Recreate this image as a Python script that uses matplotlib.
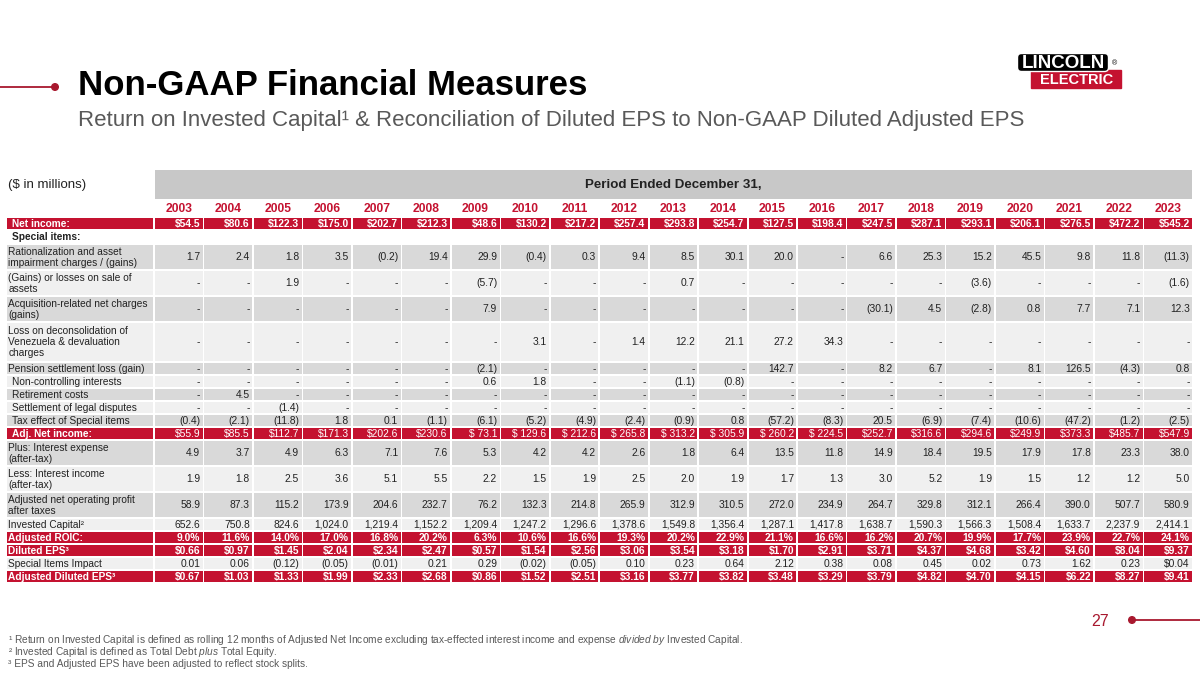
import matplotlib
matplotlib.use('Agg')
import matplotlib.pyplot as plt
from matplotlib.patches import Rectangle, FancyBboxPatch, Circle

plt.rcParams['font.family'] = ['Liberation Sans', 'DejaVu Sans']
plt.rcParams['mathtext.fontset'] = 'custom'
plt.rcParams['mathtext.rm'] = 'Liberation Sans'
plt.rcParams['mathtext.it'] = 'Liberation Sans:italic'

# ---------------- data ----------------
years = list(range(2003, 2024))
net_income = [54.5, 80.6, 122.3, 175.0, 202.7, 212.3, 48.6, 130.2, 217.2, 257.4, 293.8,
              254.7, 127.5, 198.4, 247.5, 287.1, 293.1, 206.1, 276.5, 472.2, 545.2]
rationalization = [1.7, 2.4, 1.8, 3.5, -0.2, 19.4, 29.9, -0.4, 0.3, 9.4, 8.5,
                   30.1, 20.0, None, 6.6, 25.3, 15.2, 45.5, 9.8, 11.8, -11.3]
gains_losses = [None, None, 1.9, None, None, None, -5.7, None, None, None, 0.7,
                None, None, None, None, None, -3.6, None, None, None, -1.6]
acquisition = [None, None, None, None, None, None, 7.9, None, None, None, None,
               None, None, None, -30.1, 4.5, -2.8, 0.8, 7.7, 7.1, 12.3]
venezuela = [None, None, None, None, None, None, None, 3.1, None, 1.4, 12.2,
             21.1, 27.2, 34.3, None, None, None, None, None, None, None]
pension = [None, None, None, None, None, None, -2.1, None, None, None, None,
           None, 142.7, None, 8.2, 6.7, None, 8.1, 126.5, -4.3, 0.8]
non_controlling = [None, None, None, None, None, None, 0.6, 1.8, None, None, -1.1,
                   -0.8, None, None, None, None, None, None, None, None, None]
retirement = [None, 4.5, None, None, None, None, None, None, None, None, None,
              None, None, None, None, None, None, None, None, None, None]
legal = [None, None, -1.4, None, None, None, None, None, None, None, None,
         None, None, None, None, None, None, None, None, None, None]
tax_effect = [-0.4, -2.1, -11.8, 1.8, 0.1, -1.1, -6.1, -5.2, -4.9, -2.4, -0.9,
              0.8, -57.2, -8.3, 20.5, -6.9, -7.4, -10.6, -47.2, -1.2, -2.5]
adj_net_income = [55.9, 85.5, 112.7, 171.3, 202.6, 230.6, 73.1, 129.6, 212.6, 265.8, 313.2,
                  305.9, 260.2, 224.5, 252.7, 316.6, 294.6, 249.9, 373.3, 485.7, 547.9]
adj_net_spaced_years = [2009, 2010, 2011, 2012, 2013, 2014, 2015, 2016]
interest_expense = [4.9, 3.7, 4.9, 6.3, 7.1, 7.6, 5.3, 4.2, 4.2, 2.6, 1.8,
                    6.4, 13.5, 11.8, 14.9, 18.4, 19.5, 17.9, 17.8, 23.3, 38.0]
interest_income = [1.9, 1.8, 2.5, 3.6, 5.1, 5.5, 2.2, 1.5, 1.9, 2.5, 2.0,
                   1.9, 1.7, 1.3, 3.0, 5.2, 1.9, 1.5, 1.2, 1.2, 5.0]
adj_nopat = [58.9, 87.3, 115.2, 173.9, 204.6, 232.7, 76.2, 132.3, 214.8, 265.9, 312.9,
             310.5, 272.0, 234.9, 264.7, 329.8, 312.1, 266.4, 390.0, 507.7, 580.9]
invested_capital = [652.6, 750.8, 824.6, 1024.0, 1219.4, 1152.2, 1209.4, 1247.2, 1296.6, 1378.6, 1549.8,
                    1356.4, 1287.1, 1417.8, 1638.7, 1590.3, 1566.3, 1508.4, 1633.7, 2237.9, 2414.1]
adj_roic = [9.0, 11.6, 14.0, 17.0, 16.8, 20.2, 6.3, 10.6, 16.6, 19.3, 20.2,
            22.9, 21.1, 16.6, 16.2, 20.7, 19.9, 17.7, 23.9, 22.7, 24.1]
diluted_eps = [0.66, 0.97, 1.45, 2.04, 2.34, 2.47, 0.57, 1.54, 2.56, 3.06, 3.54,
               3.18, 1.70, 2.91, 3.71, 4.37, 4.68, 3.42, 4.60, 8.04, 9.37]
special_impact = [0.01, 0.06, -0.12, -0.05, -0.01, 0.21, 0.29, -0.02, -0.05, 0.10, 0.23,
                  0.64, 2.12, 0.38, 0.08, 0.45, 0.02, 0.73, 1.62, 0.23, 0.04]
special_impact_dollar_years = [2023]
adj_diluted_eps = [0.67, 1.03, 1.33, 1.99, 2.33, 2.68, 0.86, 1.52, 2.51, 3.16, 3.77,
                   3.82, 3.48, 3.29, 3.79, 4.82, 4.70, 4.15, 6.22, 8.27, 9.41]

# ---------------- formatters ----------------
def f_num(v, y=None, dec=1):
    if v is None:
        return '-'
    s = f"{abs(v):,.{dec}f}"
    return f"({s})" if v < 0 else s

def f_money(v, y=None):
    return f"${v:,.1f}"

def f_adj(v, y=None):
    return (f"$ {v:,.1f}" if y in adj_net_spaced_years else f"${v:,.1f}")

def f_pct(v, y=None):
    return f"{v:.1f}%"

def f_eps(v, y=None):
    return f"${v:.2f}"

def f_sii(v, y=None):
    s = f_num(v, dec=2)
    return ("$" + s) if y in special_impact_dollar_years else s

RED = '#C41230'
DARKRED = '#A8182E'
GREY = '#D9D9D9'
LIGHT = '#F0F0F0'
TXT = '#222222'

# label, values, formatter, background, height, label bold, values bold, label indent
rows = [
    ("Net income:", net_income, f_money, 'red', 13, True, True, 1),
    ("Special items:", None, None, None, 14, True, False, 1),
    ("Rationalization and asset\nimpairment charges / (gains)", rationalization, f_num, 'grey', 26, False, False, 0),
    ("(Gains) or losses on sale of\nassets", gains_losses, f_num, 'light', 26, False, False, 0),
    ("Acquisition-related net charges\n(gains)", acquisition, f_num, 'grey', 26, False, False, 0),
    ("Loss on deconsolidation of\nVenezuela & devaluation\ncharges", venezuela, f_num, 'light', 40, False, False, 0),
    ("Pension settlement loss (gain)", pension, f_num, 'grey', 13, False, False, 0),
    ("Non-controlling interests", non_controlling, f_num, 'light', 13, False, False, 1),
    ("Retirement costs", retirement, f_num, 'grey', 13, False, False, 1),
    ("Settlement of legal disputes", legal, f_num, 'light', 13, False, False, 1),
    ("Tax effect of Special items", tax_effect, f_num, 'grey', 13, False, False, 1),
    ("Adj. Net income:", adj_net_income, f_adj, 'red', 13, True, False, 1),
    ("Plus: Interest expense\n(after-tax)", interest_expense, f_num, 'grey', 26, False, False, 0),
    ("Less: Interest income\n(after-tax)", interest_income, f_num, 'light', 26, False, False, 0),
    ("Adjusted net operating profit\nafter taxes", adj_nopat, f_num, 'grey', 26, False, False, 0),
    ("Invested Capital\u00b2", invested_capital, f_num, 'light', 13, False, False, 0),
    ("Adjusted ROIC:", adj_roic, f_pct, 'red', 13, True, True, 0),
    ("Diluted EPS\u00b3", diluted_eps, f_eps, 'red', 13, True, True, 0),
    ("Special Items Impact", special_impact, f_sii, 'light', 13, False, False, 0),
    ("Adjusted Diluted EPS\u00b3", adj_diluted_eps, f_eps, 'red', 13, True, True, 0),
]
BG = {'red': RED, 'grey': GREY, 'light': LIGHT, None: None}

# ---------------- figure ----------------
fig = plt.figure(figsize=(12, 6.75), dpi=100)
ax = fig.add_axes([0, 0, 1, 1])
ax.set_xlim(0, 1200)
ax.set_ylim(675, 0)
ax.axis('off')

# title decoration
ax.plot([0, 55], [87, 87], color=DARKRED, lw=1.3, solid_capstyle='butt')
ax.add_patch(Circle((55, 87), 3.3, color=DARKRED))
ax.text(78, 95, "Non-GAAP Financial Measures", fontsize=25, fontweight='bold',
        color='black', va='baseline', ha='left')
ax.text(78, 126, "Return on Invested Capital\u00b9 & Reconciliation of Diluted EPS to Non-GAAP Diluted Adjusted EPS",
        fontsize=16, color='#595959', va='baseline', ha='left')

# logo
ax.add_patch(Rectangle((1031, 70), 90, 18, color=RED, zorder=2))
ax.add_patch(FancyBboxPatch((1019, 55), 88, 15, boxstyle="round,pad=1.5,rounding_size=4",
                            fc='black', ec='white', lw=1.0, zorder=3))
ax.text(1063, 63, "LINCOLN", fontsize=13.5, fontweight='bold', color='white',
        ha='center', va='center', zorder=4)
ax.text(1077, 80, "ELECTRIC", fontsize=10.5, fontweight='bold', color='white',
        ha='center', va='center', zorder=4)
ax.text(1114, 64, "\u00ae", fontsize=5, color='black', ha='center', va='center')

# table geometry
lab_l, lab_r = 7, 154
col_l, col_r = 154, 1193
ncol = len(years)
cw = (col_r - col_l) / ncol
gap = 0.8

# header band
ax.add_patch(Rectangle((col_l + gap, 170), col_r - col_l - 2 * gap, 29, color='#C8C8C8', lw=0))
ax.text((col_l + col_r) / 2, 185, "Period Ended December 31,", fontsize=9.6, fontweight='bold',
        color=TXT, ha='center', va='center')
ax.text(8, 185, "($ in millions)", fontsize=9.5, color=TXT, ha='left', va='center', parse_math=False)

for i, y in enumerate(years):
    ax.text(col_l + (i + 0.5) * cw, 208.5, str(y), fontsize=8.7, fontweight='bold',
            color=RED, ha='center', va='center')

top = 217
for label, vals, fmt, bg, h, lbold, vbold, indent in rows:
    c = BG[bg]
    cy = top + h / 2
    tc = 'white' if bg == 'red' else TXT
    if c is not None:
        ax.add_patch(Rectangle((lab_l, top + gap), lab_r - lab_l - gap, h - 2 * gap, color=c, lw=0))
        for i in range(ncol):
            ax.add_patch(Rectangle((col_l + i * cw + gap, top + gap), cw - 2 * gap, h - 2 * gap,
                                   color=c, lw=0))
    ax.text(lab_l + 1.5 + indent * 3.5, cy + 0.3, label, fontsize=7.3,
            fontweight='bold' if lbold else 'normal', color=tc, ha='left', va='center',
            linespacing=1.12, parse_math=False)
    if vals is not None:
        for i, (yr, v) in enumerate(zip(years, vals)):
            ax.text(col_l + (i + 1) * cw - 3.2, cy + 0.3, fmt(v, yr), fontsize=7.4,
                    fontweight='bold' if vbold else 'normal', color=tc,
                    ha='right', va='center', parse_math=False)
    top += h

# page number
ax.text(1100, 621, "27", fontsize=11.5, color=DARKRED, ha='center', va='center')
ax.plot([1132, 1200], [620, 620], color=DARKRED, lw=1.3, solid_capstyle='butt')
ax.add_patch(Circle((1132, 620), 3.3, color=DARKRED))

# footnotes
FN = '#595959'
ax.text(8, 640, "\u00b9 Return on Invested Capital is defined as rolling 12 months of Adjusted Net Income excluding "
        "tax-effected interest income and expense $\\mathit{divided\\ by}$ Invested Capital.",
        fontsize=7.25, color=FN, ha='left', va='center')
ax.text(8, 652, "\u00b2 Invested Capital is defined as Total Debt $\\mathit{plus}$ Total Equity.",
        fontsize=7.25, color=FN, ha='left', va='center')
ax.text(8, 664, "\u00b3 EPS and Adjusted EPS have been adjusted to reflect stock splits.",
        fontsize=7.25, color=FN, ha='left', va='center')

fig.savefig('out.png', dpi=100)
